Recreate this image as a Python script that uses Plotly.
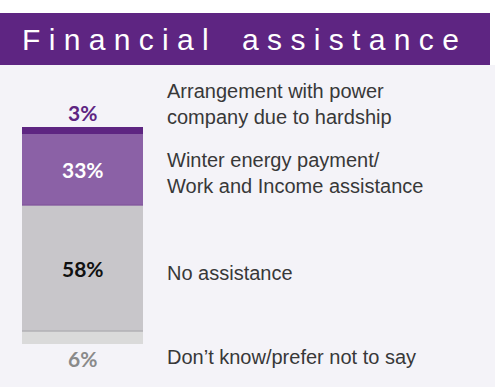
import plotly.graph_objects as go

# Survey result: share of households by type of financial assistance received
categories = [
    "Don’t know/prefer not to say",
    "No assistance",
    "Winter energy payment/<br>Work and Income assistance",
    "Arrangement with power<br>company due to hardship",
]
shares = [6, 58, 33, 3]
value_labels = ["6%", "58%", "33%", "3%"]
title_text = "Financial assistance"

seg_colors = ["#DADADA", "#C8C6CA", "#8B61A6", "#5E2582"]
label_colors = ["#8A8A8A", "#111111", "#FFFFFF", "#5E2582"]

W, H = 495, 387
L, R, T, B = 22, 352, 127, 43


def px_x(px):
    return (px - L) / (W - L - R)


def px_y(py):
    return (H - B - py) / (H - T - B)


fig = go.Figure()
for cat, val, col in zip(categories, shares, seg_colors):
    fig.add_trace(go.Bar(
        x=[0], y=[val], name=cat.replace("<br>", " "),
        marker=dict(color=col, line=dict(width=0)),
        hoverinfo="skip", showlegend=False,
    ))

# cumulative positions of each stacked segment
bases = []
acc = 0
for v in shares:
    bases.append(acc)
    acc += v

shapes = [
    # page background below the header band
    dict(type="rect", xref="paper", yref="paper", layer="below",
         x0=px_x(0), x1=px_x(W), y0=px_y(H), y1=px_y(65),
         fillcolor="#F4F3F8", line=dict(width=0)),
    # header band
    dict(type="rect", xref="paper", yref="paper", layer="below",
         x0=px_x(0), x1=px_x(490), y0=px_y(65), y1=px_y(13),
         fillcolor="#5E2582", line=dict(width=0)),
    # thin separators between segments
    dict(type="line", xref="x", yref="y", x0=-0.5, x1=0.5,
         y0=bases[1], y1=bases[1], line=dict(color="#B2B1B4", width=1.5)),
    dict(type="line", xref="x", yref="y", x0=-0.5, x1=0.5,
         y0=bases[2], y1=bases[2], line=dict(color="#7B4E98", width=1)),
]

annotations = []
spaced_title = "\u00a0\u00a0\u00a0\u00a0".join(
    "\u00a0".join(word) for word in title_text.split(" "))
annotations.append(dict(
    text=spaced_title, xref="paper", yref="paper",
    x=px_x(20), y=px_y(39), xanchor="left", yanchor="middle",
    showarrow=False,
    font=dict(family="Liberation Sans, Arial", size=30, color="#FFFFFF"),
))

num_font = "Lato, Open Sans, sans-serif"
for i, (val, lab, col) in enumerate(zip(shares, value_labels, label_colors)):
    if i == 0:
        y, ya = 0, "top"
    elif i == len(shares) - 1:
        y, ya = bases[i] + val, "bottom"
    else:
        y, ya = bases[i] + val / 2, "middle"
    annotations.append(dict(
        text=f"<b>{lab}</b>", xref="x", yref="y", x=0, y=y,
        xanchor="center", yanchor=ya, showarrow=False,
        font=dict(family=num_font, size=21, color=col),
    ))

cat_y = [357, 273, 173, 103.5]
for cat, cy in zip(categories, cat_y):
    annotations.append(dict(
        text=cat, xref="paper", yref="paper",
        x=px_x(165), y=px_y(cy), xanchor="left", yanchor="middle",
        align="left", showarrow=False,
        font=dict(family="Liberation Sans, Arial", size=20, color="#383838"),
    ))

fig.update_layout(
    width=W, height=H,
    margin=dict(l=L, r=R, t=T, b=B, pad=0),
    barmode="stack", bargap=0,
    paper_bgcolor="#FFFFFF", plot_bgcolor="rgba(0,0,0,0)",
    xaxis=dict(visible=False, range=[-0.5, 0.5], fixedrange=True),
    yaxis=dict(visible=False, range=[0, 100], fixedrange=True),
    shapes=shapes, annotations=annotations,
    showlegend=False,
)

fig.write_html("out.html", config={"displayModeBar": False})
